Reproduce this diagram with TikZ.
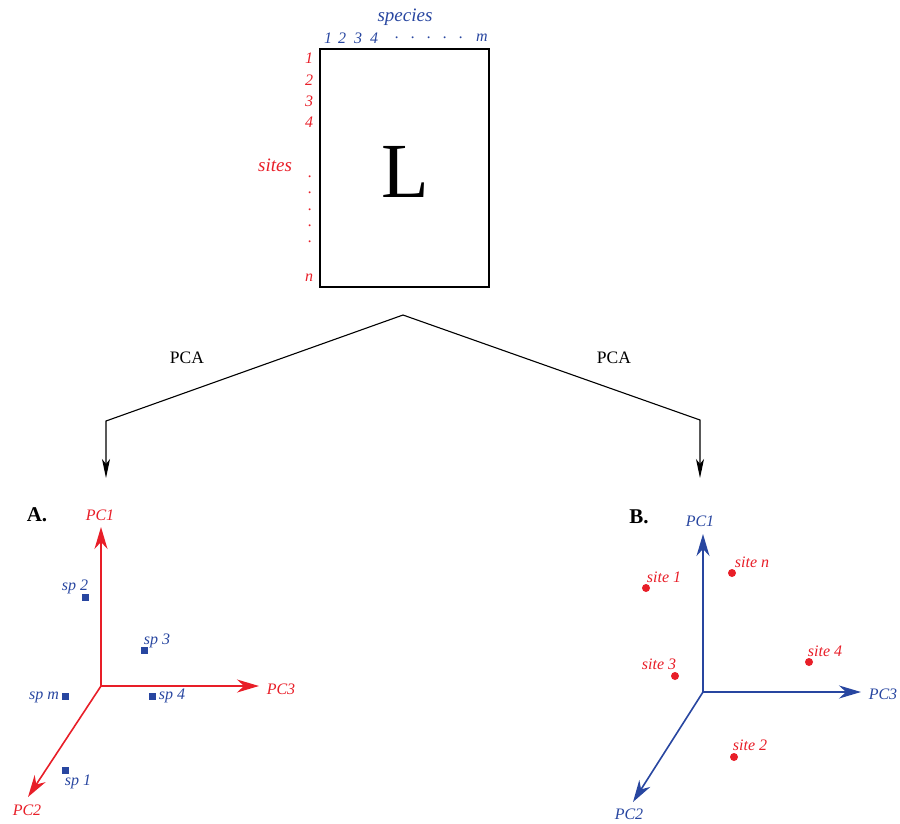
\documentclass[tikz,border=0pt]{standalone}
\usepackage{fontspec}
\setmainfont{Liberation Serif}
\usetikzlibrary{arrows.meta,positioning}
\definecolor{sitered}{RGB}{232,30,40}
\definecolor{spblue}{RGB}{40,70,160}

\begin{document}
\begin{tikzpicture}[x=1pt,y=-1pt,
  redlbl/.style={text=sitered,font=\fontsize{16}{18}\selectfont\itshape,inner sep=0pt},
  bluelbl/.style={text=spblue,font=\fontsize{16}{18}\selectfont\itshape,inner sep=0pt},
  title/.style={font=\fontsize{19}{22}\selectfont\itshape,inner sep=0pt},
  panel/.style={font=\fontsize{21}{24}\selectfont\bfseries,inner sep=0pt},
  pcalbl/.style={font=\fontsize{17.5}{20}\selectfont,inner sep=0pt},
  redaxis/.style={-{Stealth[length=22pt,width=13pt,inset=7pt]},draw=sitered,line width=1.6pt},
  blueaxis/.style={-{Stealth[length=22pt,width=13pt,inset=7pt]},draw=spblue,line width=1.6pt},
  spmark/.style={fill=spblue,rectangle,minimum size=7pt,inner sep=0pt},
  sitemark/.style={fill=sitered,circle,minimum size=8pt,inner sep=0pt},
  arr/.style={-{Stealth[length=19pt,width=8pt,inset=5pt]},line width=1.1pt}
]
  \useasboundingbox (0,0) rectangle (900,823);
  % Data matrix
  \node[draw,line width=2pt,minimum width=169pt,minimum height=238pt,inner sep=0pt] (mat) at (404.5,168) {};
  \node[font=\fontsize{78}{80}\selectfont,inner sep=0pt] (L) at (405,172) {L};
  \node[title,text=spblue] (species) at (405,17) {species};
  \node[title,text=sitered] (sites) at (275,165) {sites};
  % Column labels
  \node[bluelbl] (c1) at (328,38) {1};
  \node[bluelbl] (c2) at (342,38) {2};
  \node[bluelbl] (c3) at (358,38) {3};
  \node[bluelbl] (c4) at (374,38) {4};
  \foreach \x in {397,413,429,445,461}
    \node[bluelbl] (cd\x) at (\x,38) {.};
  \node[bluelbl] (cm) at (482,38) {m};
  % Row labels
  \node[redlbl] (r1) at (309,58) {1};
  \node[redlbl] (r2) at (309,80) {2};
  \node[redlbl] (r3) at (309,101) {3};
  \node[redlbl] (r4) at (309,122) {4};
  \foreach \y in {177,193,210,226,242}
    \node[redlbl] (rd\y) at (310,\y) {.};
  \node[redlbl] (rn) at (309,278) {n};
  % PCA split
  \coordinate (apex) at (403,315);
  \coordinate (lbend) at (106,421);
  \coordinate (ltip) at (106,478);
  \coordinate (rbend) at (700,420);
  \coordinate (rtip) at (700,478);
  \draw[arr] (apex) -- (lbend) -- (ltip);
  \draw[arr] (apex) -- (rbend) -- (rtip);
  \node[pcalbl] (pcaA) at (187,358) {PCA};
  \node[pcalbl] (pcaB) at (614,358) {PCA};
  % A. species ordination
  \node[panel] (A) at (37,515) {A.};
  \coordinate (oA) at (101,686);
  \coordinate (pc1A) at (101,527);
  \coordinate (pc3A) at (259,686);
  \coordinate (pc2A) at (28,797);
  \draw[redaxis] (oA) -- (pc1A);
  \draw[redaxis] (oA) -- (pc3A);
  \draw[redaxis] (oA) -- (pc2A);
  \node[redlbl] (lpc1A) at (100,515) {PC1};
  \node[redlbl] (lpc3A) at (281,689) {PC3};
  \node[redlbl] (lpc2A) at (27,810) {PC2};
  \node[spmark] (sp2) at (85,597) {};
  \node[spmark] (sp3) at (144,650) {};
  \node[spmark] (spm) at (65,696) {};
  \node[spmark] (sp4) at (152,696) {};
  \node[spmark] (sp1) at (65,770) {};
  \node[bluelbl] (lsp2) at (75,587) {sp 2};
  \node[bluelbl] (lsp3) at (157,641) {sp 3};
  \node[bluelbl] (lspm) at (44,697) {sp m};
  \node[bluelbl] (lsp4) at (172,696) {sp 4};
  \node[bluelbl] (lsp1) at (78,782) {sp 1};
  % B. site ordination
  \node[panel] (B) at (639,517) {B.};
  \coordinate (oB) at (703,692);
  \coordinate (pc1B) at (703,534);
  \coordinate (pc3B) at (861,692);
  \coordinate (pc2B) at (633,802);
  \draw[blueaxis] (oB) -- (pc1B);
  \draw[blueaxis] (oB) -- (pc3B);
  \draw[blueaxis] (oB) -- (pc2B);
  \node[bluelbl] (lpc1B) at (700,521) {PC1};
  \node[bluelbl] (lpc3B) at (883,694) {PC3};
  \node[bluelbl] (lpc2B) at (629,814) {PC2};
  \node[sitemark] (s1) at (646,588) {};
  \node[sitemark] (sn) at (732,573) {};
  \node[sitemark] (s3) at (675,676) {};
  \node[sitemark] (s4) at (809,662) {};
  \node[sitemark] (s2) at (734,757) {};
  \node[redlbl] (ls1) at (664,577) {site 1};
  \node[redlbl] (lsn) at (752,562) {site n};
  \node[redlbl] (ls3) at (659,664) {site 3};
  \node[redlbl] (ls4) at (825,651) {site 4};
  \node[redlbl] (ls2) at (750,745) {site 2};
\end{tikzpicture}
\end{document}
